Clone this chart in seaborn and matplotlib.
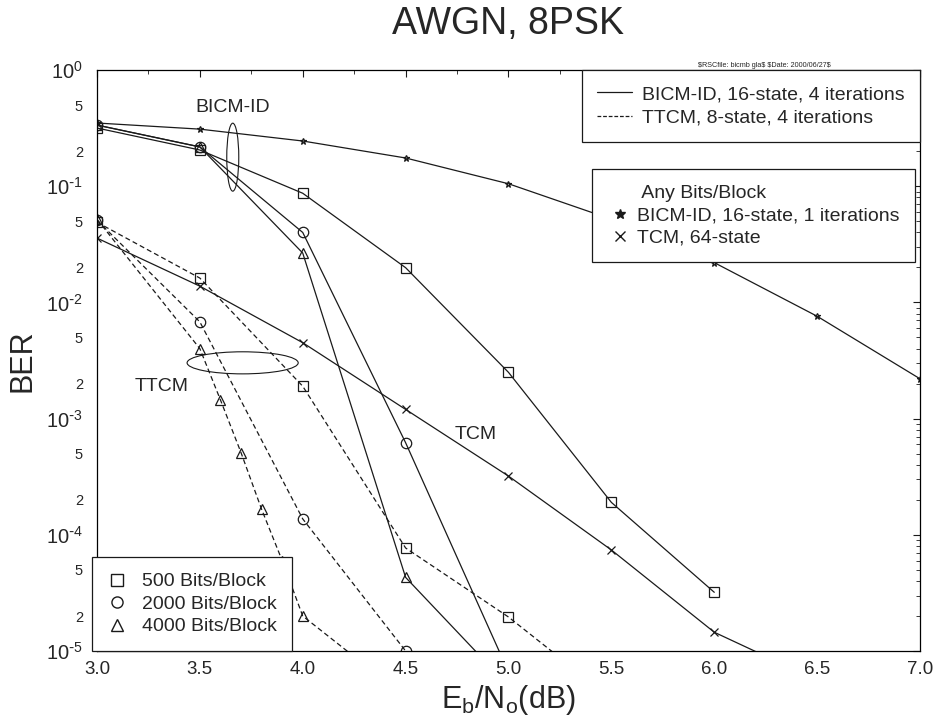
import numpy as np
import pandas as pd
import matplotlib
matplotlib.use("Agg")
import matplotlib.pyplot as plt
import seaborn as sns
from matplotlib.lines import Line2D
from matplotlib.patches import Ellipse
from matplotlib.ticker import FuncFormatter, LogLocator, MultipleLocator

# BICM-ID, 16-state, 4 iterations (solid)
bicm_x = [3.0, 3.5, 4.0, 4.5, 5.0, 5.5, 6.0]
bicm_500 = [0.317, 0.205, 0.087, 0.0199, 0.0025, 1.9e-4, 3.2e-5]
bicm_x_2000 = [3.0, 3.5, 4.0, 4.5, 5.0]
bicm_2000 = [0.336, 0.218, 0.040, 6.2e-4, 6.6e-6]
bicm_x_4000 = [3.0, 3.5, 4.0, 4.5, 5.0]
bicm_4000 = [0.336, 0.218, 0.0266, 4.3e-5, 5.0e-6]

# TTCM, 8-state, 4 iterations (dashed)
ttcm_x_500 = [3.0, 3.5, 4.0, 4.5, 5.0, 5.5]
ttcm_500 = [0.049, 0.0162, 0.0019, 7.7e-5, 1.96e-5, 3.9e-6]
ttcm_x_2000 = [3.0, 3.5, 4.0, 4.5]
ttcm_2000 = [0.051, 0.0068, 1.37e-4, 1.0e-5]
ttcm_x_4000 = [3.0, 3.5, 3.6, 3.7, 3.8, 3.9, 4.0, 4.5]
ttcm_4000 = [0.052, 0.0040, 1.45e-3, 5.1e-4, 1.66e-4, 6.0e-5, 2.0e-5, 4.0e-6]

# any bits/block
bicm1_x = [3.0, 3.5, 4.0, 4.5, 5.0, 5.5, 6.0, 6.5, 7.0]
bicm1 = [0.35, 0.31, 0.245, 0.175, 0.105, 0.052, 0.022, 0.0076, 0.0022]
tcm_x = [3.0, 3.5, 4.0, 4.5, 5.0, 5.5, 6.0, 6.5]
tcm = [0.0358, 0.0138, 0.0045, 0.0012, 3.2e-4, 7.4e-5, 1.45e-5, 5.6e-6]

block_labels = ["500 Bits/Block", "2000 Bits/Block", "4000 Bits/Block"]
block_markers = ["s", "o", "^"]
code_labels = ["BICM-ID, 16-state, 4 iterations", "TTCM, 8-state, 4 iterations"]
any_labels = ["Any Bits/Block", "BICM-ID, 16-state, 1 iterations", "TCM, 64-state"]

sns.set_theme(style="white")
plt.rcParams["font.family"] = ["Liberation Sans", "DejaVu Sans"]
plt.rcParams["mathtext.default"] = "regular"
plt.rcParams["axes.edgecolor"] = "black"
plt.rcParams["axes.linewidth"] = 0.9

fig = plt.figure(figsize=(9.35, 7.25), dpi=100)
ax = fig.add_axes([0.1037, 0.1021, 0.8803, 0.8013])

LW = 0.9
DASH = (4, 2.5)


def draw(x, y, marker, dashed, ms=7.5):
    df = pd.DataFrame({"x": x, "y": y})
    kw = dict(color="k", linewidth=LW, marker=marker, markersize=ms,
              markerfacecolor="none", markeredgecolor="k", markeredgewidth=0.9)
    if dashed:
        kw["dashes"] = DASH
    sns.lineplot(data=df, x="x", y="y", ax=ax, sort=False, estimator=None, **kw)


for x, y, m in zip([bicm_x, bicm_x_2000, bicm_x_4000],
                   [bicm_500, bicm_2000, bicm_4000], block_markers):
    draw(x, y, m, False)
for x, y, m in zip([ttcm_x_500, ttcm_x_2000, ttcm_x_4000],
                   [ttcm_500, ttcm_2000, ttcm_4000], block_markers):
    draw(x, y, m, True)
draw(bicm1_x, bicm1, "*", False, ms=5)
draw(tcm_x, tcm, "x", False, ms=6)

ax.set_yscale("log")
ax.set_xlim(3.0, 7.0)
ax.set_ylim(1e-5, 1.0)

ax.xaxis.set_major_locator(MultipleLocator(0.5))
ax.xaxis.set_minor_locator(MultipleLocator(0.25))
ax.xaxis.set_major_formatter(FuncFormatter(lambda v, p: f"{v:.1f}"))
ax.yaxis.set_major_locator(LogLocator(base=10, numticks=10))
ax.yaxis.set_minor_locator(LogLocator(base=10, subs=np.arange(2, 10), numticks=20))


def major_fmt(v, p):
    e = int(round(np.log10(v)))
    if e < 0:
        return r"$10^{\text{-}%d}$" % -e
    return r"$10^{%d}$" % e


def minor_fmt(v, p):
    m = v / 10 ** np.floor(np.log10(v) + 1e-9)
    m = int(round(m))
    return str(m) if m in (2, 5) else ""


ax.yaxis.set_major_formatter(FuncFormatter(major_fmt))
ax.yaxis.set_minor_formatter(FuncFormatter(minor_fmt))

ax.tick_params(which="both", direction="in", top=True, right=True, color="k")
ax.tick_params(which="major", length=5, width=0.8)
ax.tick_params(which="minor", length=3, width=0.6)
ax.tick_params(axis="x", which="major", labelsize=13.5, pad=7)
ax.tick_params(axis="y", which="major", labelsize=14.5, pad=10)
ax.tick_params(axis="y", which="minor", labelsize=10.5, pad=10)

ax.set_title("AWGN, 8PSK", fontsize=27, pad=26)
ax.set_xlabel(r"E$_b$/N$_o$(dB)", fontsize=22, labelpad=4)
ax.set_ylabel("BER", fontsize=22, labelpad=6)

fig.text(0.747, 0.910, r"\$RSCfile: bicmb gla\$ \$Date: 2000/06/27\$",
         fontsize=5.2, ha="left", va="center")

# annotations
ax.add_patch(Ellipse((0.165, 0.850), 0.0146, 0.117, transform=ax.transAxes,
                     fill=False, edgecolor="k", linewidth=0.8))
ax.add_patch(Ellipse((0.177, 0.496), 0.135, 0.038, transform=ax.transAxes,
                     fill=False, edgecolor="k", linewidth=0.8))
ax.text(0.165, 0.935, "BICM-ID", transform=ax.transAxes, fontsize=14,
        ha="center", va="center")
ax.text(0.079, 0.455, "TTCM", transform=ax.transAxes, fontsize=14,
        ha="center", va="center")
ax.text(0.460, 0.372, "TCM", transform=ax.transAxes, fontsize=14,
        ha="center", va="center")

leg_kw = dict(fontsize=14, frameon=True, fancybox=False, framealpha=1,
              edgecolor="k", borderaxespad=0)

h1 = [Line2D([], [], color="k", lw=LW),
      Line2D([], [], color="k", lw=LW, dashes=(3, 1.5))]
leg1 = ax.legend(h1, code_labels, loc="upper right", handlelength=1.8,
                 handletextpad=0.5, labelspacing=0.3, borderpad=0.8, **leg_kw)
leg1.get_frame().set_linewidth(0.9)
ax.add_artist(leg1)

h2 = [Line2D([], [], linestyle="none"),
      Line2D([], [], color="k", linestyle="none", marker="*", markersize=7),
      Line2D([], [], color="k", linestyle="none", marker="x", markersize=7)]
leg2 = ax.legend(h2, [" " + any_labels[0]] + any_labels[1:], loc="upper right",
                 bbox_to_anchor=(0.994, 0.830), handlelength=1.2,
                 handletextpad=0.3, labelspacing=0.25, borderpad=0.8, **leg_kw)
leg2.get_frame().set_linewidth(0.9)
ax.add_artist(leg2)

h3 = [Line2D([], [], color="k", linestyle="none", marker=m, markersize=8,
             markerfacecolor="none") for m in block_markers]
leg3 = ax.legend(h3, block_labels, loc="lower left", bbox_to_anchor=(-0.006, 0.0),
                 handlelength=1.0, handletextpad=0.75, labelspacing=0.25,
                 borderpad=0.8, **leg_kw)
leg3.get_frame().set_linewidth(0.9)

fig.savefig("out.png", dpi=100)
